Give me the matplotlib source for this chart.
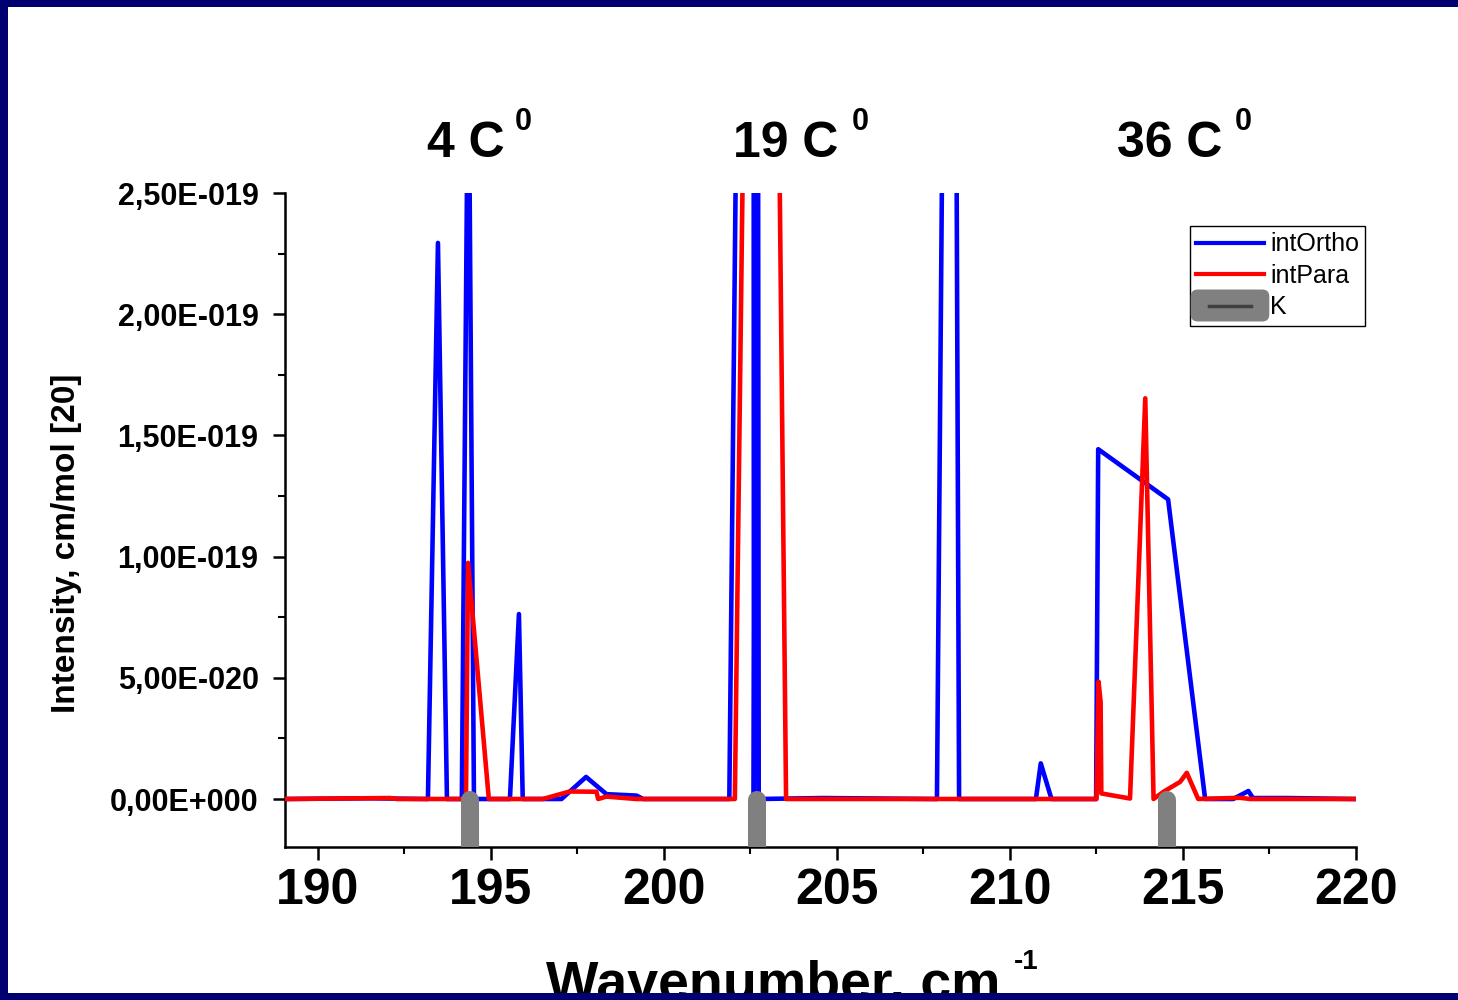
import matplotlib
matplotlib.use('Agg')
import matplotlib.pyplot as plt
import numpy as np
from matplotlib.lines import Line2D
from matplotlib.patches import Rectangle, FancyBboxPatch
from matplotlib.legend_handler import HandlerBase
from matplotlib.ticker import MultipleLocator, FuncFormatter

plt.rcParams['font.family'] = ['Liberation Sans', 'DejaVu Sans']

# intOrtho (values in units of 1e-19)
ortho_x = [189.05, 191.5, 193.18, 193.47, 193.73, 194.16, 194.35, 194.51, 195.55, 195.81,
           195.92, 197.04, 197.75, 198.34, 199.21, 199.4, 201.89, 202.58, 202.6, 202.7,
           202.74, 204.6, 207.89, 208.32, 208.53, 210.75, 210.89, 211.2, 212.49, 212.55,
           214.57, 215.64, 216.45, 216.89, 217.02, 218.0, 220.0]
ortho_y = [0, 0.003, 0, 2.294, 0, 0, 3.24, 0, 0, 0.763,
           0, 0, 0.091, 0.02, 0.014, 0, 0, 9.6, 0, 6.0,
           0, 0.004, 0, 7.6, 0, 0, 0.147, 0, 0, 1.443,
           1.236, 0, 0, 0.033, 0.004, 0.004, 0]

# intPara (values in units of 1e-19)
para_x = [189.05, 192.08, 192.3, 194.28, 194.34, 194.94, 196.5, 197.28, 198.05, 198.1,
          198.34, 199.2, 202.05, 202.86, 203.53, 212.5, 212.56, 212.62, 212.64, 213.47,
          213.91, 214.15, 214.44, 214.92, 215.11, 215.44, 216.65, 216.94, 220.0]
para_y = [0, 0.004, 0, 0, 0.974, 0, 0, 0.031, 0.03, 0.0,
          0.01, 0, 0, 9.25, 0, 0, 0.484, 0.40, 0.023, 0.002,
          1.653, 0, 0.03, 0.071, 0.108, 0, 0.005, 0, 0]

# K markers
k_x = [194.4, 202.7, 214.55]

temps = ['4 C', '19 C', '36 C']

ortho_y = np.array(ortho_y) * 1e-19
para_y = np.array(para_y) * 1e-19

W, H = 1458, 1000
fig = plt.figure(figsize=(W / 100, H / 100), dpi=100)
ax = fig.add_axes([285 / W, 1 - 847 / H, (1356 - 285) / W, (847 - 193) / H])

ax.plot(ortho_x, ortho_y, color='#0000ff', lw=3.3, solid_joinstyle='round', zorder=2)
ax.plot(para_x, para_y, color='#ff0000', lw=3.3, solid_joinstyle='round', zorder=3)
kl = ax.vlines(k_x, -0.4e-19, -0.005e-19, color='#808080', lw=13, zorder=4)
kl.set_capstyle('round')

ax.set_xlim(189.05, 220)
ax.set_ylim(-1.98e-20, 2.5e-19)

for s in ['top', 'right']:
    ax.spines[s].set_visible(False)
for s in ['left', 'bottom']:
    ax.spines[s].set_linewidth(1.8)

ax.xaxis.set_major_locator(MultipleLocator(5))
ax.xaxis.set_minor_locator(MultipleLocator(2.5))
ax.yaxis.set_major_locator(MultipleLocator(5e-20))
ax.yaxis.set_minor_locator(MultipleLocator(2.5e-20))


def fmt(v, pos):
    if abs(v) < 1e-30:
        return '0,00E+000'
    e = int(np.floor(np.log10(abs(v))))
    m = v / 10 ** e
    return ('%.2f' % m).replace('.', ',') + 'E%s%03d' % ('-' if e < 0 else '+', abs(e))


ax.yaxis.set_major_formatter(FuncFormatter(fmt))
ax.tick_params(axis='both', which='major', direction='out', length=9, width=1.8)
ax.tick_params(axis='both', which='minor', direction='out', length=5, width=1.5)
ax.tick_params(axis='x', which='major', labelsize=36, pad=6)
ax.tick_params(axis='y', which='major', labelsize=22, pad=10)
for lab in ax.get_xticklabels() + ax.get_yticklabels():
    lab.set_fontweight('bold')


class KHandler(HandlerBase):
    def create_artists(self, legend, orig_handle, xdescent, ydescent, width, height,
                       fontsize, trans):
        cy = height / 2 - ydescent
        box = FancyBboxPatch((-xdescent - 4, cy - 11.5), width + 8, 23,
                             boxstyle='round,pad=0,rounding_size=5',
                             fc='#808080', ec='none', transform=trans)
        ln = Line2D([-xdescent + 9, -xdescent + width - 9], [cy, cy],
                    color='#404040', lw=2.5, transform=trans)
        return [box, ln]


class KProxy:
    pass


handles = [Line2D([], [], color='#0000ff', lw=3),
           Line2D([], [], color='#ff0000', lw=3),
           KProxy()]
leg = ax.legend(handles, ['intOrtho', 'intPara', 'K'],
                handler_map={KProxy: KHandler()},
                loc='upper left', bbox_to_anchor=(1190 / W, 1 - 226 / H),
                bbox_transform=fig.transFigure, borderaxespad=0,
                prop={'family': 'Liberation Sans', 'size': 18},
                handlelength=2.7, handletextpad=0.25, labelspacing=0.3,
                borderpad=0.25, fancybox=False, framealpha=1)
leg.get_frame().set_edgecolor('black')
leg.get_frame().set_linewidth(1)

# temperature labels
title_x = [427, 733, 1117]
sup_x = [515, 852, 1235]
for t, tx, sx in zip(temps, title_x, sup_x):
    fig.text(tx / W, 1 - 157 / H, t, fontsize=36, fontweight='bold', ha='left', va='baseline')
    fig.text(sx / W, 1 - 130 / H, '0', fontsize=22, fontweight='bold', ha='left', va='baseline')

fig.text(67 / W, 1 - 543 / H, 'Intensity, cm/mol [20]', fontsize=24, fontweight='bold',
         rotation=90, ha='center', va='center')
fig.text(546 / W, 1 - 999 / H, 'Wavenumber, cm', fontsize=40, fontweight='bold',
         ha='left', va='baseline')
fig.text(1014 / W, 1 - 969 / H, '-1', fontsize=20, fontweight='bold', ha='left', va='baseline')

navy = '#000070'
for (x0, y0, w, h) in [(0, 0, 8, H), (0, 0, W, 7), (0, 993, W, 7)]:
    fig.patches.append(Rectangle((x0 / W, 1 - (y0 + h) / H), w / W, h / H,
                                 transform=fig.transFigure, fc=navy, ec='none', zorder=10))

fig.savefig('out.png', dpi=100, facecolor='white')
